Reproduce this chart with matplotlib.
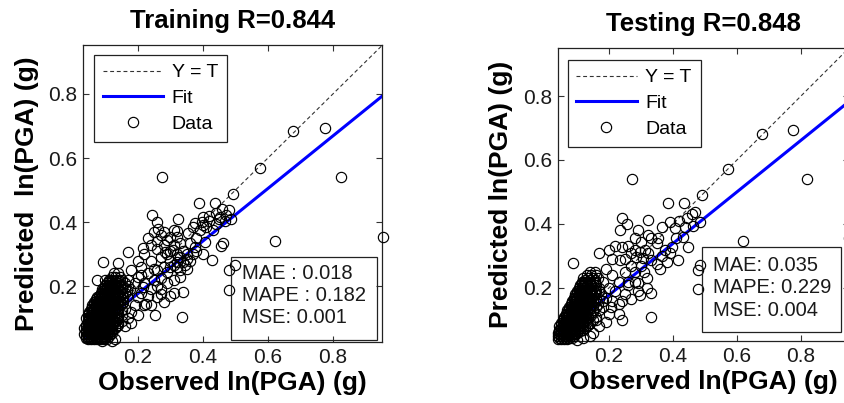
import matplotlib
matplotlib.use("Agg")
import matplotlib.pyplot as plt
from matplotlib.patches import Rectangle

plt.rcParams['font.family'] = ['Liberation Sans', 'DejaVu Sans']

# ---- data ----
ticks = [0.2, 0.4, 0.6, 0.8]
tick_labels = ['0.2', '0.4', '0.6', '0.8']

train_title = 'Training R=0.844'
test_title = 'Testing R=0.848'
train_stats = ['MAE : 0.018', 'MAPE : 0.182', 'MSE: 0.001']
test_stats = ['MAE: 0.035', 'MAPE: 0.229', 'MSE: 0.004']

# fit line slope / intercept
train_fit = (0.82, 0.013)
test_fit = (0.807, 0.016)

# dense core of points, one row per predicted level
train_core_levels = [0.04, 0.05, 0.06, 0.07, 0.08, 0.09, 0.10, 0.11, 0.12, 0.13,
                     0.14, 0.15, 0.16, 0.17, 0.18, 0.19, 0.20, 0.21, 0.22, 0.23, 0.24,
                     0.035, 0.045, 0.055, 0.065, 0.075, 0.085, 0.095, 0.105, 0.115, 0.125,
                     0.135, 0.145, 0.155, 0.165, 0.175, 0.185, 0.195, 0.205, 0.215]
train_core_obs = [
    [0.04, 0.05, 0.06, 0.07, 0.08, 0.09, 0.10],
    [0.035, 0.045, 0.055, 0.065, 0.075, 0.085, 0.095, 0.105, 0.115],
    [0.04, 0.05, 0.06, 0.07, 0.08, 0.09, 0.10, 0.11, 0.12],
    [0.035, 0.045, 0.055, 0.065, 0.075, 0.085, 0.095, 0.105, 0.115, 0.13],
    [0.04, 0.05, 0.06, 0.07, 0.08, 0.09, 0.10, 0.11, 0.12, 0.14],
    [0.045, 0.055, 0.065, 0.075, 0.085, 0.095, 0.105, 0.115, 0.13, 0.15],
    [0.04, 0.05, 0.06, 0.07, 0.08, 0.09, 0.10, 0.11, 0.12, 0.14],
    [0.045, 0.055, 0.065, 0.075, 0.085, 0.095, 0.105, 0.115, 0.125, 0.15],
    [0.05, 0.06, 0.07, 0.08, 0.09, 0.10, 0.11, 0.12, 0.135],
    [0.055, 0.065, 0.075, 0.085, 0.095, 0.105, 0.115, 0.125, 0.14, 0.16],
    [0.06, 0.07, 0.08, 0.09, 0.10, 0.11, 0.12, 0.13, 0.145],
    [0.065, 0.075, 0.085, 0.095, 0.105, 0.115, 0.125, 0.14, 0.155],
    [0.07, 0.08, 0.09, 0.10, 0.11, 0.12, 0.13, 0.15],
    [0.08, 0.09, 0.10, 0.11, 0.12, 0.13, 0.145, 0.165],
    [0.085, 0.095, 0.105, 0.115, 0.125, 0.14, 0.16],
    [0.09, 0.10, 0.11, 0.12, 0.13, 0.15, 0.175],
    [0.10, 0.11, 0.12, 0.135, 0.15, 0.17],
    [0.105, 0.115, 0.125, 0.14, 0.16],
    [0.11, 0.12, 0.135, 0.15],
    [0.12, 0.13, 0.145],
    [0.125, 0.14],
    [0.045, 0.055, 0.065, 0.075, 0.085, 0.095, 0.105],
    [0.04, 0.05, 0.06, 0.07, 0.08, 0.09, 0.10, 0.11],
    [0.04, 0.05, 0.06, 0.07, 0.08, 0.09, 0.10, 0.11, 0.12],
    [0.04, 0.05, 0.06, 0.07, 0.08, 0.09, 0.10, 0.11, 0.12],
    [0.04, 0.05, 0.06, 0.07, 0.08, 0.09, 0.10, 0.11, 0.12, 0.135],
    [0.045, 0.055, 0.065, 0.075, 0.085, 0.095, 0.105, 0.115, 0.125, 0.14],
    [0.05, 0.06, 0.07, 0.08, 0.09, 0.10, 0.11, 0.12, 0.135],
    [0.05, 0.06, 0.07, 0.08, 0.09, 0.10, 0.11, 0.12, 0.135],
    [0.05, 0.06, 0.07, 0.08, 0.09, 0.10, 0.11, 0.12, 0.14],
    [0.06, 0.07, 0.08, 0.09, 0.10, 0.11, 0.12, 0.13, 0.15],
    [0.06, 0.07, 0.08, 0.09, 0.10, 0.11, 0.12, 0.135],
    [0.065, 0.075, 0.085, 0.095, 0.105, 0.115, 0.125, 0.135, 0.15],
    [0.07, 0.08, 0.09, 0.10, 0.11, 0.12, 0.13, 0.145],
    [0.075, 0.085, 0.095, 0.105, 0.115, 0.125, 0.14, 0.155],
    [0.085, 0.095, 0.105, 0.115, 0.125, 0.135, 0.15],
    [0.09, 0.10, 0.11, 0.12, 0.13, 0.145, 0.165],
    [0.095, 0.105, 0.115, 0.125, 0.14, 0.16],
    [0.10, 0.11, 0.12, 0.13, 0.145],
    [0.11, 0.12, 0.13, 0.145],
]

train_obs = [0.273, 0.575, 0.677, 0.775, 0.824, 0.622, 0.953,
             0.493, 0.389, 0.437, 0.481, 0.244, 0.324, 0.258,
             0.249, 0.262, 0.319, 0.355, 0.375, 0.40, 0.452, 0.472, 0.485, 0.467, 0.396, 0.37, 0.42, 0.44, 0.46,
             0.406, 0.462, 0.427, 0.457, 0.375, 0.40,
             0.216, 0.17, 0.283, 0.309, 0.324, 0.34, 0.32, 0.35, 0.33, 0.31, 0.339,
             0.093, 0.139, 0.073, 0.10,
             0.481, 0.498, 0.481, 0.337, 0.252, 0.216, 0.226, 0.29, 0.31, 0.27,
             0.17, 0.18, 0.19, 0.20, 0.21, 0.22, 0.23, 0.24, 0.25, 0.26, 0.27, 0.28, 0.29, 0.30,
             0.31, 0.28, 0.26, 0.27, 0.29, 0.30, 0.32, 0.33, 0.34, 0.35, 0.22, 0.20,
             0.19, 0.20, 0.21, 0.22, 0.23, 0.24, 0.26, 0.27, 0.28, 0.30, 0.17, 0.18, 0.20, 0.24, 0.26,
             0.13, 0.12, 0.09, 0.16, 0.18,
             0.23, 0.24, 0.26, 0.28, 0.30, 0.31, 0.32, 0.30, 0.32, 0.33, 0.345, 0.36, 0.38, 0.36, 0.38,
             0.39, 0.41, 0.43, 0.44, 0.45, 0.42, 0.40,
             0.21, 0.25, 0.27, 0.29, 0.31, 0.33, 0.35, 0.37]
train_pred = [0.542, 0.568, 0.684, 0.693, 0.542, 0.341, 0.354,
              0.489, 0.459, 0.459, 0.438, 0.422, 0.411, 0.40,
              0.37, 0.38, 0.372, 0.365, 0.396, 0.39, 0.417, 0.421, 0.41, 0.405, 0.401, 0.385, 0.42, 0.43, 0.44,
              0.338, 0.335, 0.281, 0.325, 0.323, 0.30,
              0.318, 0.307, 0.307, 0.3125, 0.29, 0.275, 0.26, 0.255, 0.23, 0.22, 0.182,
              0.276, 0.271, 0.219, 0.219,
              0.25, 0.266, 0.1875, 0.104, 0.109, 0.198, 0.146, 0.21, 0.18, 0.19,
              0.22, 0.25, 0.21, 0.23, 0.26, 0.21, 0.24, 0.28, 0.22, 0.25, 0.29, 0.26, 0.30, 0.28,
              0.33, 0.33, 0.34, 0.36, 0.345, 0.31, 0.30, 0.335, 0.31, 0.30, 0.30, 0.28,
              0.14, 0.165, 0.18, 0.14, 0.17, 0.19, 0.20, 0.175, 0.15, 0.17, 0.10, 0.12, 0.11, 0.14, 0.165,
              0.035, 0.03, 0.028, 0.075, 0.085,
              0.35, 0.33, 0.315, 0.37, 0.355, 0.375, 0.355, 0.26, 0.275, 0.29, 0.265, 0.28, 0.31, 0.335, 0.35,
              0.375, 0.385, 0.375, 0.395, 0.41, 0.405, 0.415,
              0.235, 0.255, 0.225, 0.245, 0.265, 0.25, 0.285, 0.30]

test_core_levels = [0.04, 0.05, 0.06, 0.07, 0.08, 0.09, 0.10, 0.11, 0.12, 0.13, 0.14,
                    0.15, 0.16, 0.17, 0.18, 0.19, 0.20, 0.21, 0.22, 0.23, 0.24, 0.25,
                    0.045, 0.055, 0.065, 0.075, 0.085, 0.095, 0.105, 0.115, 0.125, 0.135,
                    0.145, 0.155, 0.165, 0.175, 0.185, 0.195, 0.205, 0.215, 0.225]
test_core_obs = [
    [0.04, 0.05, 0.06, 0.07],
    [0.04, 0.05, 0.06, 0.07, 0.08, 0.09],
    [0.04, 0.05, 0.06, 0.07, 0.08, 0.09, 0.10],
    [0.045, 0.055, 0.065, 0.075, 0.085, 0.095, 0.105, 0.12],
    [0.045, 0.055, 0.065, 0.075, 0.085, 0.095, 0.105, 0.115, 0.13],
    [0.05, 0.06, 0.07, 0.08, 0.09, 0.10, 0.11, 0.12, 0.14],
    [0.055, 0.065, 0.075, 0.085, 0.095, 0.105, 0.115, 0.125, 0.15],
    [0.06, 0.07, 0.08, 0.09, 0.10, 0.11, 0.12, 0.135, 0.16],
    [0.065, 0.075, 0.085, 0.095, 0.105, 0.115, 0.125, 0.14],
    [0.07, 0.08, 0.09, 0.10, 0.11, 0.12, 0.13, 0.15, 0.17],
    [0.075, 0.085, 0.095, 0.105, 0.115, 0.125, 0.14, 0.16],
    [0.08, 0.09, 0.10, 0.11, 0.12, 0.13, 0.145, 0.165],
    [0.085, 0.095, 0.105, 0.115, 0.125, 0.135, 0.15, 0.18],
    [0.09, 0.10, 0.11, 0.12, 0.13, 0.145, 0.16],
    [0.095, 0.105, 0.115, 0.125, 0.14, 0.155, 0.175],
    [0.10, 0.11, 0.12, 0.13, 0.145, 0.16],
    [0.105, 0.115, 0.125, 0.135, 0.15, 0.17],
    [0.11, 0.12, 0.13, 0.145, 0.16],
    [0.115, 0.125, 0.14, 0.155],
    [0.12, 0.135, 0.15, 0.165],
    [0.13, 0.145, 0.16],
    [0.14, 0.155],
    [0.045, 0.055, 0.065, 0.075, 0.085],
    [0.045, 0.055, 0.065, 0.075, 0.085, 0.095],
    [0.045, 0.055, 0.065, 0.075, 0.085, 0.095, 0.11],
    [0.05, 0.06, 0.07, 0.08, 0.09, 0.10, 0.11, 0.125],
    [0.05, 0.06, 0.07, 0.08, 0.09, 0.10, 0.11, 0.12, 0.135],
    [0.055, 0.065, 0.075, 0.085, 0.095, 0.105, 0.115, 0.13],
    [0.06, 0.07, 0.08, 0.09, 0.10, 0.11, 0.12, 0.135],
    [0.065, 0.075, 0.085, 0.095, 0.105, 0.115, 0.125, 0.145],
    [0.07, 0.08, 0.09, 0.10, 0.11, 0.12, 0.13, 0.15],
    [0.075, 0.085, 0.095, 0.105, 0.115, 0.125, 0.14],
    [0.08, 0.09, 0.10, 0.11, 0.12, 0.13, 0.15],
    [0.085, 0.095, 0.105, 0.115, 0.125, 0.14, 0.155],
    [0.09, 0.10, 0.11, 0.12, 0.13, 0.145, 0.17],
    [0.095, 0.105, 0.115, 0.125, 0.135, 0.15],
    [0.10, 0.11, 0.12, 0.13, 0.14, 0.155],
    [0.105, 0.115, 0.125, 0.14, 0.155],
    [0.11, 0.12, 0.13, 0.145],
    [0.115, 0.125, 0.14, 0.155],
    [0.125, 0.14, 0.155],
]

test_obs = [0.271, 0.571, 0.679, 0.776, 0.82, 0.62, 0.95,
            0.49, 0.385, 0.435, 0.469, 0.24, 0.323, 0.256, 0.234, 0.292, 0.323, 0.365, 0.39,
            0.42, 0.445, 0.46, 0.406, 0.438, 0.464, 0.485,
            0.354, 0.281, 0.297, 0.313, 0.323, 0.286, 0.307, 0.333, 0.349, 0.24, 0.234,
            0.396, 0.448, 0.417, 0.484, 0.477, 0.477, 0.26, 0.292, 0.318, 0.333, 0.297, 0.375, 0.365,
            0.333, 0.0865, 0.169, 0.20, 0.099, 0.205, 0.23, 0.24, 0.29, 0.32, 0.28,
            0.17, 0.18, 0.19, 0.20, 0.21, 0.22, 0.23, 0.25, 0.26, 0.27, 0.28, 0.30, 0.31, 0.25,
            0.27, 0.26, 0.21, 0.22, 0.19, 0.18, 0.20, 0.21, 0.23, 0.25, 0.27, 0.16, 0.17, 0.19,
            0.15, 0.12, 0.14, 0.24, 0.36, 0.38, 0.39, 0.41, 0.43, 0.35, 0.33, 0.30, 0.28]
test_pred = [0.541, 0.571, 0.681, 0.694, 0.541, 0.347, 0.357,
             0.49, 0.465, 0.465, 0.438, 0.418, 0.4125, 0.40, 0.381, 0.381, 0.365, 0.392, 0.405,
             0.41, 0.42, 0.43, 0.386, 0.39, 0.395, 0.406,
             0.355, 0.319, 0.313, 0.319, 0.308, 0.298, 0.292, 0.286, 0.276, 0.329, 0.287,
             0.329, 0.329, 0.2875, 0.272, 0.256, 0.198, 0.22, 0.215, 0.23, 0.183, 0.178, 0.32, 0.30,
             0.11, 0.277, 0.308, 0.32, 0.0375, 0.14, 0.12, 0.16, 0.19, 0.20, 0.22,
             0.19, 0.22, 0.17, 0.20, 0.24, 0.19, 0.22, 0.25, 0.21, 0.27, 0.25, 0.27, 0.25, 0.29,
             0.31, 0.33, 0.29, 0.33, 0.26, 0.14, 0.12, 0.16, 0.15, 0.18, 0.165, 0.10, 0.08, 0.095,
             0.06, 0.045, 0.05, 0.10, 0.26, 0.28, 0.31, 0.355, 0.36, 0.34, 0.355, 0.345, 0.355]


def flatten(levels, rows):
    xs, ys = [], []
    for lev, row in zip(levels, rows):
        for v in row:
            xs.append(v)
            ys.append(lev)
    return xs, ys


def draw_panel(ax, title, ylabel, obs, pred, core_levels, core_obs, fit, stats,
               lims, leg_anchor, box, text_x, text_y):
    cx, cy = flatten(core_levels, core_obs)
    x_all = cx + obs
    y_all = cy + pred
    lo, hi = 0.02, 0.97

    ax.plot([lo, hi], [lo, hi], color='#333333', lw=0.8, ls=(0, (3.5, 2.5)),
            label='Y = T', zorder=2)
    ax.plot([lo, hi], [fit[0] * lo + fit[1], fit[0] * hi + fit[1]],
            color='#0000ff', lw=2.2, label='Fit', zorder=2)
    ax.plot(x_all, y_all, 'o', mfc='none', mec='black', ms=7.4, mew=0.85,
            label='Data', zorder=3, clip_on=False)

    ax.set_xlim(lims[0], lims[1])
    ax.set_ylim(lims[2], lims[3])
    ax.set_xticks(ticks)
    ax.set_xticklabels(tick_labels)
    ax.set_yticks(ticks)
    ax.set_yticklabels(tick_labels)
    ax.tick_params(direction='in', top=True, right=True, length=4, width=0.8,
                   labelsize=15, pad=4, labelcolor='#1a1a1a', color='#333333')
    for s in ax.spines.values():
        s.set_linewidth(0.9)
        s.set_color('#222222')

    ax.set_title(title, fontsize=18.5, fontweight='bold', pad=12)
    ax.set_xlabel('Observed ln(PGA) (g)', fontsize=19, fontweight='bold', labelpad=3)
    ax.set_ylabel(ylabel, fontsize=19, fontweight='bold', labelpad=7)

    leg = ax.legend(loc='upper left', bbox_to_anchor=leg_anchor, borderaxespad=0,
                    fontsize=14, handlelength=3.1, handletextpad=0.45,
                    labelspacing=0.42, borderpad=0.45, fancybox=False,
                    framealpha=1, edgecolor='#222222')
    leg.get_frame().set_linewidth(0.9)

    ax.add_patch(Rectangle((box[0], box[1]), box[2], box[3], transform=ax.transAxes,
                           fill=False, edgecolor='#222222', lw=0.9, zorder=4,
                           clip_on=False))
    for line, ty in zip(stats, text_y):
        ax.text(text_x, ty, line, transform=ax.transAxes, fontsize=14.5,
                va='center', ha='left', color='#1a1a1a', zorder=5)


fig = plt.figure(figsize=(8.45, 4.03), dpi=100)
ax1 = fig.add_axes([0.0982, 0.1514, 0.3538, 0.737])
ax2 = fig.add_axes([0.660, 0.1538, 0.3447, 0.727])

draw_panel(ax1, train_title, 'Predicted  ln(PGA) (g)', train_obs, train_pred,
           train_core_levels, train_core_obs, train_fit, train_stats,
           (0.031, 0.951, 0.026, 0.953), (0.037, 0.966),
           (0.495, 0.007, 0.488, 0.279), 0.532, (0.232, 0.155, 0.081))
draw_panel(ax2, test_title, 'Predicted ln(PGA) (g)', test_obs, test_pred,
           test_core_levels, test_core_obs, test_fit, test_stats,
           (0.04, 0.95, 0.034, 0.95), (0.034, 0.959),
           (0.494, 0.030, 0.477, 0.292), 0.532, (0.259, 0.183, 0.103))

fig.savefig('out.png', dpi=100)
